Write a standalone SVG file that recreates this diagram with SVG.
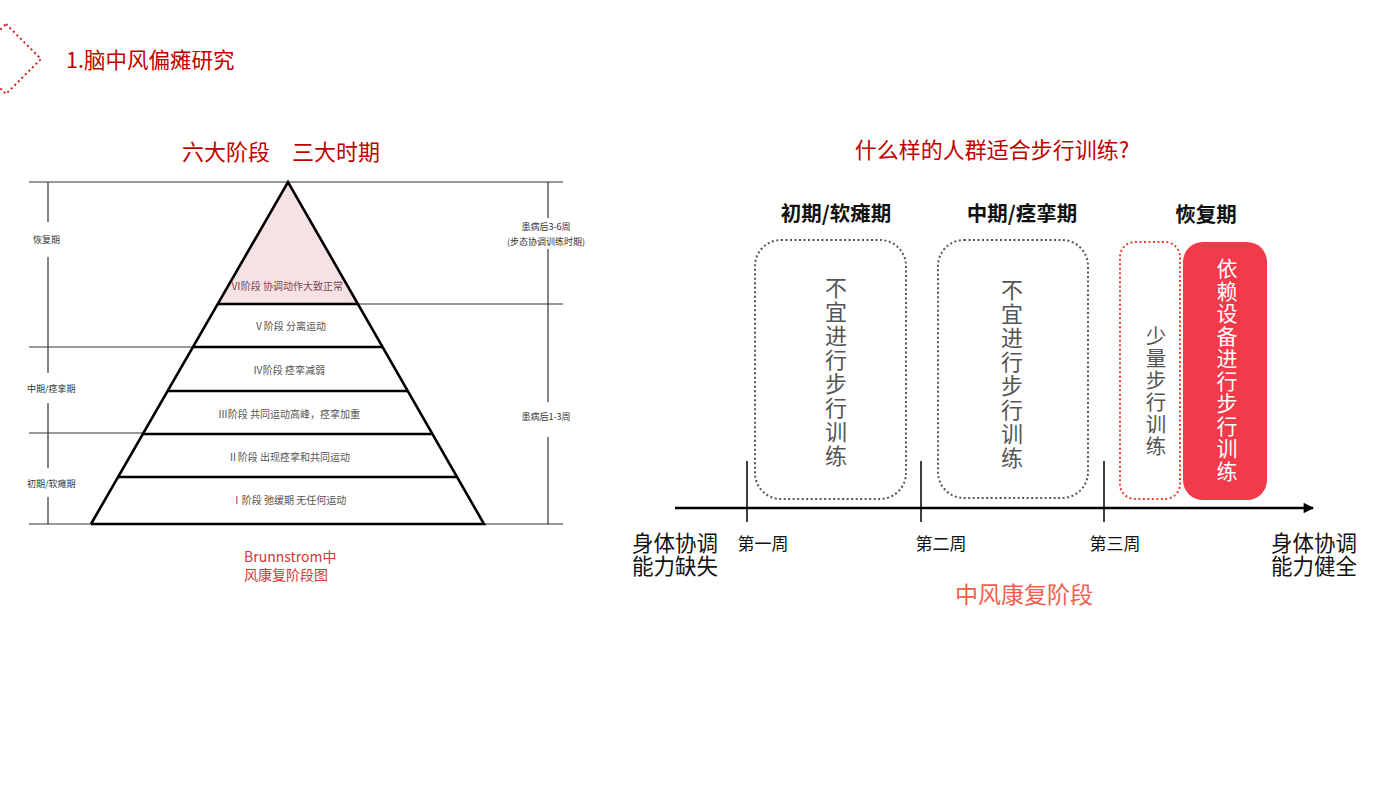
<svg xmlns="http://www.w3.org/2000/svg" width="1400" height="788" viewBox="0 0 1400 788">
<defs>
<style>
text{font-family:"Noto Sans CJK SC","Noto Sans",sans-serif}
.red{fill:#c00000}
.thin{stroke:#333;stroke-width:1.2;fill:none}
.thick{stroke:#000;stroke-width:2.6;fill:none}
.small{font-size:9px;fill:#333}
.pl{font-size:10px;fill:#555;text-anchor:middle}
.hdr{font-size:20.5px;font-weight:bold;fill:#111;text-anchor:middle}
.vt{fill:#555;writing-mode:vertical-rl;text-anchor:start}
.wk{font-size:17px;fill:#111;text-anchor:middle}
.side{font-size:21.5px;fill:#111}
</style>
<marker id="arr" viewBox="0 0 10 10" refX="9" refY="5" markerWidth="5" markerHeight="4" orient="auto" markerUnits="strokeWidth"><path d="M0,0 L10,5 L0,10 z" fill="#000"/></marker>
</defs>
<rect width="1400" height="788" fill="#fff"/>

<g id="header">
<polygon points="6,24 41,59 6,94 -29,59" fill="none" stroke="#d02020" stroke-width="2" stroke-dasharray="2,3"/>
<text x="66" y="68" font-size="21.5" class="red">1.脑中风偏瘫研究</text>
</g>

<g id="left-title">
<text x="182" y="160" font-size="22" class="red">六大阶段</text>
<text x="292" y="160" font-size="22" class="red">三大时期</text>
</g>

<g id="pyramid-frame">
<line class="thin" x1="29" y1="182" x2="563" y2="182"/>
<line class="thin" x1="357" y1="304" x2="563" y2="304"/>
<line class="thin" x1="29" y1="347" x2="193" y2="347"/>
<line class="thin" x1="29" y1="433" x2="143" y2="433"/>
<line class="thin" x1="29" y1="524" x2="563" y2="524"/>
<line class="thin" x1="48" y1="182" x2="48" y2="222"/>
<line class="thin" x1="48" y1="257" x2="48" y2="373"/>
<line class="thin" x1="48" y1="403" x2="48" y2="468"/>
<line class="thin" x1="48" y1="497" x2="48" y2="524"/>
<line class="thin" x1="548" y1="182" x2="548" y2="218"/>
<line class="thin" x1="548" y1="249" x2="548" y2="402"/>
<line class="thin" x1="548" y1="437" x2="548" y2="524"/>
<text class="small" x="33" y="243">恢复期</text>
<text class="small" x="27" y="392">中期/痉挛期</text>
<text class="small" x="27" y="487">初期/软瘫期</text>
<text class="small" x="546" y="230" text-anchor="middle">患病后3-6周</text>
<text class="small" x="546" y="245" text-anchor="middle">(步态协调训练时期)</text>
<text class="small" x="546" y="420" text-anchor="middle">患病后1-3周</text>
</g>

<g id="pyramid">
<polygon points="288,182 218,304 358,304" fill="#f6e1e4"/>
<polyline class="thick" points="91,524 288,182 484,524 91,524"/>
<line class="thick" x1="218" y1="304" x2="358" y2="304"/>
<line class="thick" x1="193" y1="347" x2="383" y2="347"/>
<line class="thick" x1="168" y1="391" x2="408" y2="391"/>
<line class="thick" x1="143" y1="434" x2="433" y2="434"/>
<line class="thick" x1="118" y1="477" x2="458" y2="477"/>
<text class="pl" x="287" y="290" style="fill:#7a4a52">Ⅵ阶段 协调动作大致正常</text>
<text class="pl" x="290" y="330">Ⅴ阶段 分离运动</text>
<text class="pl" x="289" y="374">Ⅳ阶段 痉挛减弱</text>
<text class="pl" x="289" y="418">Ⅲ阶段 共同运动高峰，痉挛加重</text>
<text class="pl" x="289" y="461">Ⅱ阶段 出现痉挛和共同运动</text>
<text class="pl" x="289" y="504">Ⅰ阶段 弛缓期 无任何运动</text>
</g>

<g id="caption">
<text x="244" y="562" font-size="14" fill="#d03838">Brunnstrom中</text>
<text x="244" y="580" font-size="14" fill="#d03838">风康复阶段图</text>
</g>

<g id="right-title">
<text x="992" y="158" font-size="22" class="red" text-anchor="middle">什么样的人群适合步行训练?</text>
</g>

<g id="col1">
<text class="hdr" x="836" y="221">初期/软瘫期</text>
<rect x="755" y="240" width="151" height="259" rx="26" fill="none" stroke="#555" stroke-width="2" stroke-dasharray="2,2.5"/>
<text class="vt" x="836" y="277" font-size="22" letter-spacing="2">不宜进行步行训练</text>
</g>

<g id="col2">
<text class="hdr" x="1022" y="221">中期/痉挛期</text>
<rect x="938" y="240" width="150" height="258" rx="26" fill="none" stroke="#555" stroke-width="2" stroke-dasharray="2,2.5"/>
<text class="vt" x="1012" y="279" font-size="22" letter-spacing="2">不宜进行步行训练</text>
</g>

<g id="col3">
<text class="hdr" x="1206" y="222">恢复期</text>
<rect x="1120" y="242" width="60" height="257" rx="15" fill="none" stroke="#f04030" stroke-width="2" stroke-dasharray="2,2.5"/>
<text class="vt" x="1156" y="326" font-size="20.5" letter-spacing="1.5">少量步行训练</text>
</g>

<g id="col4">
<rect x="1183" y="242" width="84" height="258" rx="20" fill="#f23a4a"/>
<text class="vt" x="1227" y="258" font-size="21" letter-spacing="1.5" style="fill:#fff">依赖设备进行步行训练</text>
</g>

<g id="connectors">
<line x1="675" y1="508" x2="1313" y2="508" stroke="#000" stroke-width="2.6" marker-end="url(#arr)"/>
<line x1="747" y1="461" x2="747" y2="522" stroke="#000" stroke-width="1.5"/>
<line x1="921" y1="461" x2="921" y2="522" stroke="#000" stroke-width="1.5"/>
<line x1="1104" y1="461" x2="1104" y2="522" stroke="#000" stroke-width="1.5"/>
</g>

<g id="axis-labels">
<text class="wk" x="763" y="550">第一周</text>
<text class="wk" x="941" y="550">第二周</text>
<text class="wk" x="1115" y="550">第三周</text>
<text class="side"><tspan x="632" y="551">身体协调</tspan><tspan x="632" y="574">能力缺失</tspan></text>
<text class="side"><tspan x="1271" y="551">身体协调</tspan><tspan x="1271" y="574">能力健全</tspan></text>
<text x="1024" y="603" font-size="23" fill="#f06050" text-anchor="middle">中风康复阶段</text>
</g>
</svg>
